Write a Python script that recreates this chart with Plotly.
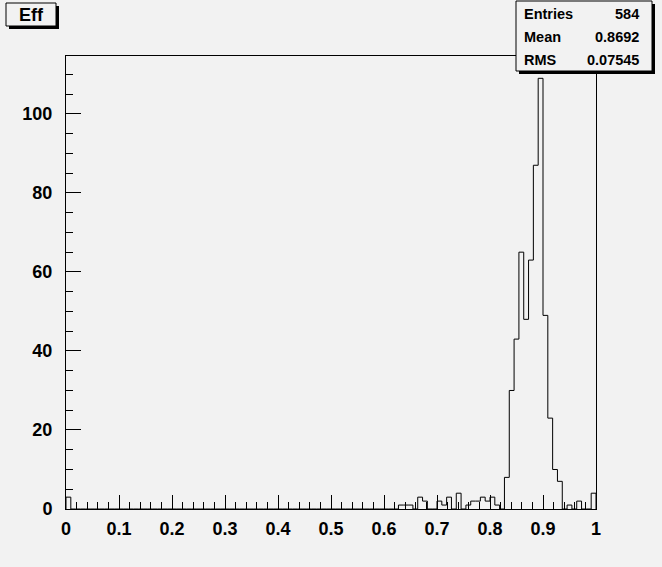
import numpy as np
import plotly.graph_objects as go

# ---- data ----
n_bins = 110
x_low, x_high = 0.0, 1.0
bin_index = [0, 69, 70, 71, 73, 74, 77, 78, 79, 81, 83, 84, 85, 86, 87, 88, 89,
             91, 92, 93, 94, 95, 96, 97, 98, 99, 100, 101, 102, 104, 106, 109]
bin_count = [3, 1, 1, 1, 3, 2, 2, 1, 3, 4, 1, 2, 2, 3, 2, 3, 1,
             8, 30, 43, 65, 48, 63, 87, 109, 49, 23, 10, 7, 1, 2, 4]
x_tick_vals = [0, 0.1, 0.2, 0.3, 0.4, 0.5, 0.6, 0.7, 0.8, 0.9, 1.0]
x_tick_text = ["0", "0.1", "0.2", "0.3", "0.4", "0.5", "0.6", "0.7", "0.8", "0.9", "1"]
hist_title = "Eff"
stats_labels = ["Entries", "Mean", "RMS"]
stats_values = ["584", "0.8692", "0.07545"]

counts = np.zeros(n_bins)
for i, c in zip(bin_index, bin_count):
    counts[i] = c
edges = np.linspace(x_low, x_high, n_bins + 1)

# step outline of histogram (ROOT style)
xs = np.concatenate([[edges[0]], edges, [edges[-1]]])
ys = np.concatenate([[0], counts, [counts[-1]], [0]])

BG = "#f2f2f2"
W, H = 662, 567
L, R, T, B = 66, 596, 56, 509
FONT = "Liberation Sans"

fig = go.Figure()
fig.add_trace(go.Scatter(x=xs, y=ys, mode="lines", line=dict(color="black", width=1, shape="hv"),
                         hoverinfo="skip", showlegend=False))

ymax = 114.65

fig.update_layout(
    width=W, height=H,
    margin=dict(l=L, r=W - R, t=T, b=H - B, pad=0),
    paper_bgcolor=BG, plot_bgcolor=BG,
    showlegend=False,
    xaxis=dict(range=[x_low, x_high], tickvals=x_tick_vals, ticktext=x_tick_text,
               ticks="inside", ticklen=14, tickwidth=1, tickcolor="black",
               minor=dict(ticks="inside", ticklen=7, dtick=0.02, tickcolor="black", showgrid=False),
               showline=True, mirror=True, linecolor="black", linewidth=1,
               showgrid=False, zeroline=False,
               tickfont=dict(family=FONT, size=18, color="black", weight="bold"),
               ticklabelstandoff=3),
    yaxis=dict(range=[0, ymax], dtick=20, tick0=0,
               ticks="inside", ticklen=15, tickwidth=1, tickcolor="black",
               minor=dict(ticks="inside", ticklen=7, dtick=5, tickcolor="black", showgrid=False),
               showline=True, mirror=True, linecolor="black", linewidth=1,
               showgrid=False, zeroline=False,
               tickfont=dict(family=FONT, size=18, color="black", weight="bold"),
               ticklabelstandoff=9),
)


def px(xp):
    return (xp - L) / (R - L)


def py(yp):
    return (B - yp) / (B - T)


shapes = []
# title box with shadow
shapes.append(dict(type="rect", xref="paper", yref="paper", x0=px(9), x1=px(59), y0=py(29), y1=py(6),
                   fillcolor="black", line=dict(width=0), layer="above"))
shapes.append(dict(type="rect", xref="paper", yref="paper", x0=px(6), x1=px(56), y0=py(26), y1=py(3),
                   fillcolor=BG, line=dict(color="black", width=1), layer="above"))
# stats box with shadow
shapes.append(dict(type="rect", xref="paper", yref="paper", x0=px(519), x1=px(655), y0=py(74), y1=py(4),
                   fillcolor="black", line=dict(width=0), layer="above"))
shapes.append(dict(type="rect", xref="paper", yref="paper", x0=px(516), x1=px(652), y0=py(71), y1=py(1),
                   fillcolor=BG, line=dict(color="black", width=1), layer="above"))
fig.update_layout(shapes=shapes)

ann = [dict(text=hist_title, xref="paper", yref="paper", x=px(31), y=py(15), xanchor="center",
            yanchor="middle", showarrow=False, font=dict(family=FONT, size=18, color="black", weight="bold"))]
row_y = [14, 37, 60]
for lab, val, yy in zip(stats_labels, stats_values, row_y):
    ann.append(dict(text=lab, xref="paper", yref="paper", x=px(522), y=py(yy), xanchor="left",
                    yanchor="middle", showarrow=False,
                    font=dict(family=FONT, size=14.5, color="black", weight="bold")))
    ann.append(dict(text=val, xref="paper", yref="paper", x=px(641), y=py(yy), xanchor="right",
                    yanchor="middle", showarrow=False,
                    font=dict(family=FONT, size=14.5, color="black", weight="bold")))
fig.update_layout(annotations=ann)

fig.write_html("out.html", config={"displayModeBar": False, "staticPlot": True},
               post_script="document.body.style.margin='0';document.body.style.padding='0';"
                           "document.body.style.background='" + BG + "';")
